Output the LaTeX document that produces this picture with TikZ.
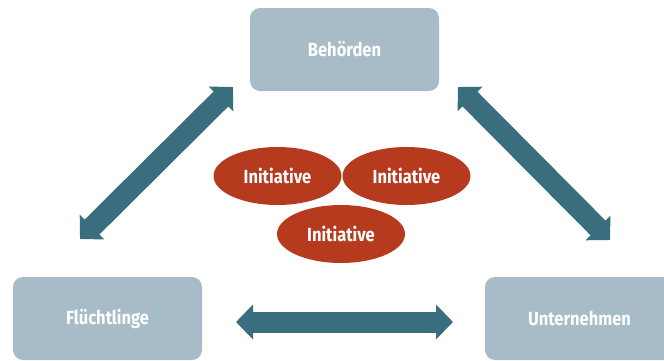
\documentclass[tikz,border=0pt]{standalone}
\usepackage{fontspec}
\setmainfont{Fira Sans}[FakeStretch=0.87]
\usetikzlibrary{arrows.meta,shapes.geometric}
\definecolor{boxc}{HTML}{A7BCC7}
\definecolor{redc}{HTML}{B63A1E}
\definecolor{arrc}{HTML}{3A6D7D}
\tikzset{
  party/.style={draw=none, fill=boxc, rounded corners=10pt, minimum width=189pt, minimum height=83pt, text=white, font=\bfseries\fontsize{19}{21}\selectfont, inner sep=0pt},
  initiative/.style={ellipse, draw=none, fill=redc, minimum width=128pt, minimum height=58pt, text=white, font=\bfseries\fontsize{19}{21}\selectfont, inner sep=0pt},
  biarrow/.style={draw=arrc, line width=21pt, {Triangle[width=34pt,length=17pt]}-{Triangle[width=34pt,length=17pt]}}
}
\begin{document}
\begin{tikzpicture}[x=1pt,y=-1pt]
\useasboundingbox (0,0) rectangle (664,360);
\clip (0,0) rectangle (664,360);
\node[party] (beh) at (344.5,49.5) {Behörden};
\node[party] (fl) at (107.5,318.5) {Flüchtlinge};
\node[party] (un) at (579.5,318.5) {Unternehmen};
\node[initiative] (i1) at (277.5,176) {Initiative};
\node[initiative] (i2) at (406.5,176) {Initiative};
\node[initiative] (i3) at (341,234) {Initiative};
\coordinate (l1) at (233,87);
\coordinate (l2) at (80,239);
\coordinate (r1) at (458,87);
\coordinate (r2) at (610,240);
\coordinate (h1) at (236,322);
\coordinate (h2) at (453,322);
\draw[biarrow] (l2) -- (l1);
\draw[biarrow] (r1) -- (r2);
\draw[biarrow] (h1) -- (h2);
\end{tikzpicture}
\end{document}
